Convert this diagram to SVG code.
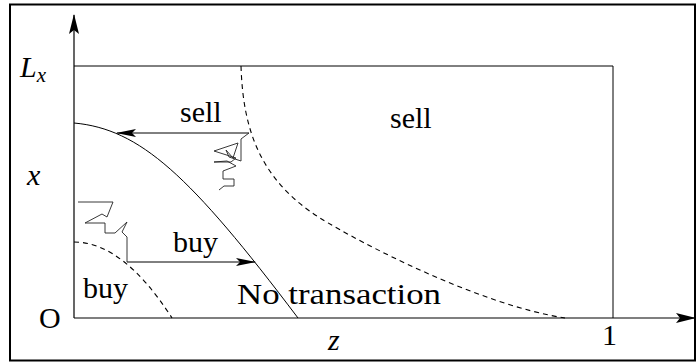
<svg xmlns="http://www.w3.org/2000/svg" width="697" height="362" viewBox="0 0 697 362">
<style>
.ln{fill:none;stroke:#000;stroke-width:1}
.ax{fill:none;stroke:#000;stroke-width:1.2}
.dash{fill:none;stroke:#000;stroke-width:1.1;stroke-dasharray:5,4}
.walk{fill:none;stroke:#222;stroke-width:0.9;stroke-linejoin:miter}
</style>
<defs>
<marker id="ah" viewBox="0 0 20 8" refX="19" refY="4" markerUnits="userSpaceOnUse" markerWidth="20" markerHeight="8" orient="auto">
<path d="M0,0 L20,4 L0,8 L4,4 Z" fill="#000"/>
</marker>
<marker id="axh" viewBox="0 0 20 10" refX="19" refY="5" markerUnits="userSpaceOnUse" markerWidth="20" markerHeight="10" orient="auto">
<path d="M0,0 L20,5 L0,10 L4,5 Z" fill="#000"/>
</marker>
</defs>
<rect x="10" y="4.5" width="685" height="356" fill="#fff" stroke="#000" stroke-width="2"/>
<g id="axes">
<line class="ax" x1="74" y1="318" x2="74" y2="15" marker-end="url(#axh)"/>
<line class="ax" x1="74" y1="318" x2="695" y2="318" marker-end="url(#axh)"/>
</g>
<g id="domain">
<polyline class="ln" points="74,66 613,66 613,318"/>
</g>
<g id="connectors">
<path id="sell-boundary" class="ln" d="M74,123 C140,129 190,175 298,318"/>
<path id="outer-dashed" class="dash" d="M241,66 C243,130 260,180 320,218 C360,243 480,305 565,318"/>
<path id="inner-dashed" class="dash" d="M74,242 Q123,242 172,318"/>
<line id="sell-arrow" class="ln" x1="249" y1="133" x2="117" y2="133" marker-end="url(#ah)"/>
<line id="buy-arrow" class="ln" x1="127" y1="262" x2="255" y2="262" marker-end="url(#ah)"/>
<polyline id="walk-buy" class="walk" points="78,202 113,202 107,217 102,214 85,223 105,223 105,233 115,233 127,222 122,232 127,237 127,262"/>
<polyline id="walk-sell" class="walk" points="219,190 224,186 234,186 234,179 223,179 223,171 236,166 227,161 214,162 231,162 236,158 214,151 238,143 233,158 226,150 229,157 241,161 241,139 249,133"/>
</g>
<g id="labels" font-family="Liberation Serif, serif" font-size="30" fill="#000">
<text font-style="italic" x="20" y="77">L<tspan font-size="21" dy="5">x</tspan></text>
<text font-style="italic" x="27" y="185">x</text>
<text x="39" y="328">O</text>
<text font-style="italic" x="328" y="350">z</text>
<text x="602" y="345">1</text>
<text x="180" y="122">sell</text>
<text x="390" y="128">sell</text>
<text x="173" y="252">buy</text>
<text x="83" y="298">buy</text>
<text x="237" y="304" textLength="204" lengthAdjust="spacingAndGlyphs">No transaction</text>
</g>
</svg>
